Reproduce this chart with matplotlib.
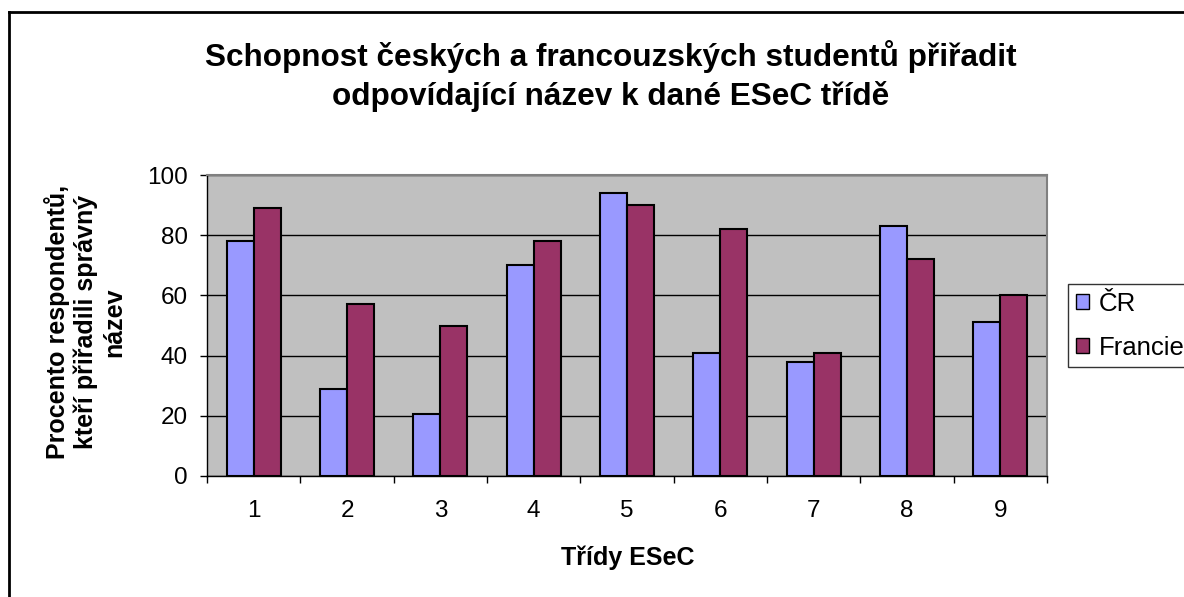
import numpy as np
import matplotlib
matplotlib.use("Agg")
import matplotlib.pyplot as plt
from matplotlib.patches import Patch
from matplotlib.lines import Line2D

plt.rcParams["font.family"] = ["Liberation Sans", "DejaVu Sans"]

categories = ["1", "2", "3", "4", "5", "6", "7", "8", "9"]
cr = [78, 29, 20.5, 70, 94, 41, 38, 83, 51]
francie = [89, 57, 50, 78, 90, 82, 41, 72, 60]
series_names = ["ČR", "Francie"]

C_CR = "#9999FF"
C_FR = "#993366"

fig = plt.figure(figsize=(11.84, 5.97), dpi=100)
# axes box in pixels: x 207-1047, y 175-476
W, H = 1184, 597
ax = fig.add_axes([207 / W, 1 - 476 / H, 840 / W, 301 / H])
ax.set_facecolor("#C0C0C0")

x = np.arange(1, len(categories) + 1)
bw = 0.29
ax.bar(x - bw / 2, cr, bw, color=C_CR, edgecolor="black", linewidth=1.5, zorder=3)
ax.bar(x + bw / 2, francie, bw, color=C_FR, edgecolor="black", linewidth=1.5, zorder=3)

ax.set_xlim(0.5, len(categories) + 0.5)
ax.set_ylim(0, 100)
ax.set_yticks(range(0, 101, 20))
ax.yaxis.grid(True, color="black", linewidth=1.0, zorder=1)
ax.set_axisbelow(True)

ax.set_xticks(np.arange(0.5, len(categories) + 1, 1))
ax.set_xticklabels([])
ax.set_xticks(x, minor=True)
ax.set_xticklabels(categories, minor=True)
ax.tick_params(axis="x", which="major", direction="out", length=5, width=1)
ax.tick_params(axis="x", which="minor", length=0, pad=17, labelsize=17.5)
ax.tick_params(axis="y", direction="out", length=5, width=1, pad=9, labelsize=17.5)

for s in ["left", "bottom"]:
    ax.spines[s].set_color("black")
    ax.spines[s].set_linewidth(1.0)
for s in ["top", "right"]:
    ax.spines[s].set_color("#808080")
    ax.spines[s].set_linewidth(1.5)

fig.text(611 / W, 1 - 76 / H,
         "Schopnost českých a francouzských studentů přiřadit\nodpovídající název k dané ESeC třídě",
         ha="center", va="center", fontsize=22.7, fontweight="bold", linespacing=1.35)

fig.text(85 / W, 1 - 322 / H,
         "Procento respondentů,\nkteří přiřadili správný\nnázev",
         ha="center", va="center", rotation=90, fontsize=18, fontweight="bold",
         linespacing=1.22)

fig.text(628 / W, 1 - 558 / H, "Třídy ESeC", ha="center", va="center",
         fontsize=18, fontweight="bold")

handles = [Patch(facecolor=C_CR, edgecolor="black"),
           Patch(facecolor=C_FR, edgecolor="black")]
leg = fig.legend(handles, series_names, loc="upper left",
                 bbox_to_anchor=(1068 / W, 1 - 284 / H), fontsize=18.5,
                 frameon=True, fancybox=False, handlelength=0.5, handleheight=0.5,
                 handletextpad=0.4, borderpad=0.3, labelspacing=0.78,
                 borderaxespad=0)
leg.get_frame().set_edgecolor("black")
leg.get_frame().set_linewidth(1.0)

# outer chart frame (only top and left visible in the reference)
fig.add_artist(Line2D([9 / W, 9 / W], [0, 1 - 12 / H], transform=fig.transFigure,
                      color="black", linewidth=2))
fig.add_artist(Line2D([9 / W, 1], [1 - 12 / H, 1 - 12 / H], transform=fig.transFigure,
                      color="black", linewidth=2))

plt.savefig("out.png", dpi=100)
